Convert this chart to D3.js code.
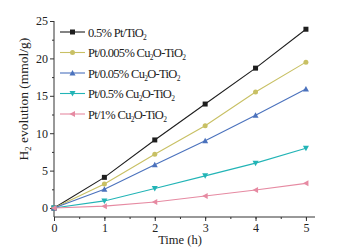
<!DOCTYPE html>
<html>
<head>
<meta charset="utf-8">
<script src="https://cdn.jsdelivr.net/npm/d3@7"></script>
<style>
  body { margin: 0; background: #fff; }
  text { font-family: "Liberation Serif", "DejaVu Serif", serif; fill: #222; }
</style>
</head>
<body>
<div id="chart"></div>
<script>
// Data
const times = [0, 1, 2, 3, 4, 5];
const seriesNames = ["0.5% Pt/TiO2", "Pt/0.005% Cu2O-TiO2", "Pt/0.05% Cu2O-TiO2", "Pt/0.5% Cu2O-TiO2", "Pt/1% Cu2O-TiO2"];
const ptTiO2 = [0, 4.1, 9.1, 13.9, 18.7, 23.9];
const cu0005 = [0, 3.2, 7.2, 11.0, 15.5, 19.5];
const cu005 = [0, 2.5, 5.8, 9.0, 12.4, 15.9];
const cu05 = [0, 0.95, 2.6, 4.3, 6.0, 8.0];
const cu1 = [0, 0.25, 0.8, 1.6, 2.4, 3.3];
const xTicks = [0, 1, 2, 3, 4, 5];
const yTicks = [0, 5, 10, 15, 20, 25];

const allSeries = [ptTiO2, cu0005, cu005, cu05, cu1];
const colors = ["#1e1e1e", "#c8c064", "#4b72bd", "#22b4b6", "#e68aa2"];
const symbols = ["square", "circle", "up", "down", "left"];

const W = 355, H = 250;
const svg = d3.select("#chart").append("svg")
    .attr("width", W)
    .attr("height", H);

const x = d3.scaleLinear().domain([0, 5.18]).range([54, 315]);
const y = d3.scaleLinear().domain([-1.2, 25]).range([217, 21]);

// x axis with minor ticks
svg.append("g")
    .attr("transform", `translate(0,${y(-1.2)})`)
    .call(d3.axisBottom(x).tickValues(d3.range(0, 5.2, 0.5)).tickSize(2).tickFormat(""))
    .call(g => g.select(".domain").remove())
    .selectAll("line").attr("stroke", "#333");
const xAxis = svg.append("g")
    .attr("transform", `translate(0,${y(-1.2)})`)
    .call(d3.axisBottom(x).tickValues(xTicks).tickSize(4).tickSizeOuter(0).tickPadding(2).tickFormat(d3.format("d")));
xAxis.select(".domain").attr("stroke", "#333").attr("d", `M${x(0)},0H${x(5.18)}`);
xAxis.selectAll("line").attr("stroke", "#333");
xAxis.selectAll("text").style("font-size", "12px").style("font-family", "Liberation Serif").attr("fill", "#222");

// y axis with minor ticks
svg.append("g")
    .attr("transform", `translate(${x(0)},0)`)
    .call(d3.axisLeft(y).tickValues(d3.range(2.5, 25, 5)).tickSize(2).tickFormat(""))
    .call(g => g.select(".domain").remove())
    .selectAll("line").attr("stroke", "#333");
const yAxis = svg.append("g")
    .attr("transform", `translate(${x(0)},0)`)
    .call(d3.axisLeft(y).tickValues(yTicks).tickSize(4).tickSizeOuter(0).tickPadding(2));
yAxis.select(".domain").attr("stroke", "#333").attr("d", `M0,${y(-1.2)}V${y(25)}`);
yAxis.selectAll("line").attr("stroke", "#333");
yAxis.selectAll("text").style("font-size", "12px").style("font-family", "Liberation Serif").attr("fill", "#222");

// marker shapes
function marker(sel, kind, color) {
    const s = 2.5;
    let d;
    if (kind === "square") d = `M${-s},${-s}h${2*s}v${2*s}h${-2*s}Z`;
    else if (kind === "up") d = `M0,${-s-0.5}L${s+0.5},${s}L${-s-0.5},${s}Z`;
    else if (kind === "down") d = `M0,${s+0.5}L${s+0.5},${-s}L${-s-0.5},${-s}Z`;
    else if (kind === "left") d = `M${-s-0.5},0L${s},${-s-0.5}L${s},${s+0.5}Z`;
    if (kind === "circle") {
        sel.append("circle").attr("r", s).attr("fill", color);
    } else {
        sel.append("path").attr("d", d).attr("fill", color);
    }
}

const line = d3.line()
    .x((d, i) => x(times[i]))
    .y(d => y(d));

allSeries.forEach((vals, k) => {
    svg.append("path")
        .datum(vals)
        .attr("fill", "none")
        .attr("stroke", colors[k])
        .attr("stroke-width", 1.1)
        .attr("d", line);
    svg.selectAll(null)
        .data(vals)
        .join("g")
        .attr("transform", (d, i) => `translate(${x(times[i])},${y(d)})`)
        .each(function() { marker(d3.select(this), symbols[k], colors[k]); });
});

// write text where a "2" after Cu or TiO is set as subscript
function chemText(t, str, subSize) {
    const parts = str.split(/(Cu2|TiO2)/).filter(p => p.length);
    let shift = 0;
    parts.forEach(p => {
        if (p === "Cu2" || p === "TiO2") {
            t.append("tspan").attr("dy", -shift).text(p.slice(0, -1));
            t.append("tspan").attr("dy", 3).style("font-size", subSize).text("2");
            shift = 3;
        } else {
            t.append("tspan").attr("dy", -shift).text(p);
            shift = 0;
        }
    });
}

// legend
const legend = svg.append("g");
seriesNames.forEach((name, k) => {
    const ly = 32 + k * 20.5;
    const g = legend.append("g").attr("transform", `translate(0,${ly})`);
    g.append("line")
        .attr("x1", 60).attr("x2", 85)
        .attr("stroke", colors[k]).attr("stroke-width", 1.1);
    const m = g.append("g").attr("transform", "translate(72.5,0)");
    marker(m, symbols[k], colors[k]);
    const t = g.append("text")
        .attr("x", 88).attr("y", 4.5)
        .style("font-size", "12.5px")
        .style("letter-spacing", "-0.7px");
    chemText(t, name, "7.5px");
});

// axis titles
svg.append("text")
    .attr("x", 180).attr("y", 244)
    .attr("text-anchor", "middle")
    .style("font-size", "12.5px")
    .text("Time (h)");

const yl = svg.append("text")
    .attr("transform", "translate(28,99) rotate(-90)")
    .attr("text-anchor", "middle")
    .style("font-size", "13.5px");
yl.append("tspan").text("H");
yl.append("tspan").attr("dy", 3).style("font-size", "8.5px").text("2");
yl.append("tspan").attr("dy", -3).text(" evolution (mmol/g)");
</script>
</body>
</html>
